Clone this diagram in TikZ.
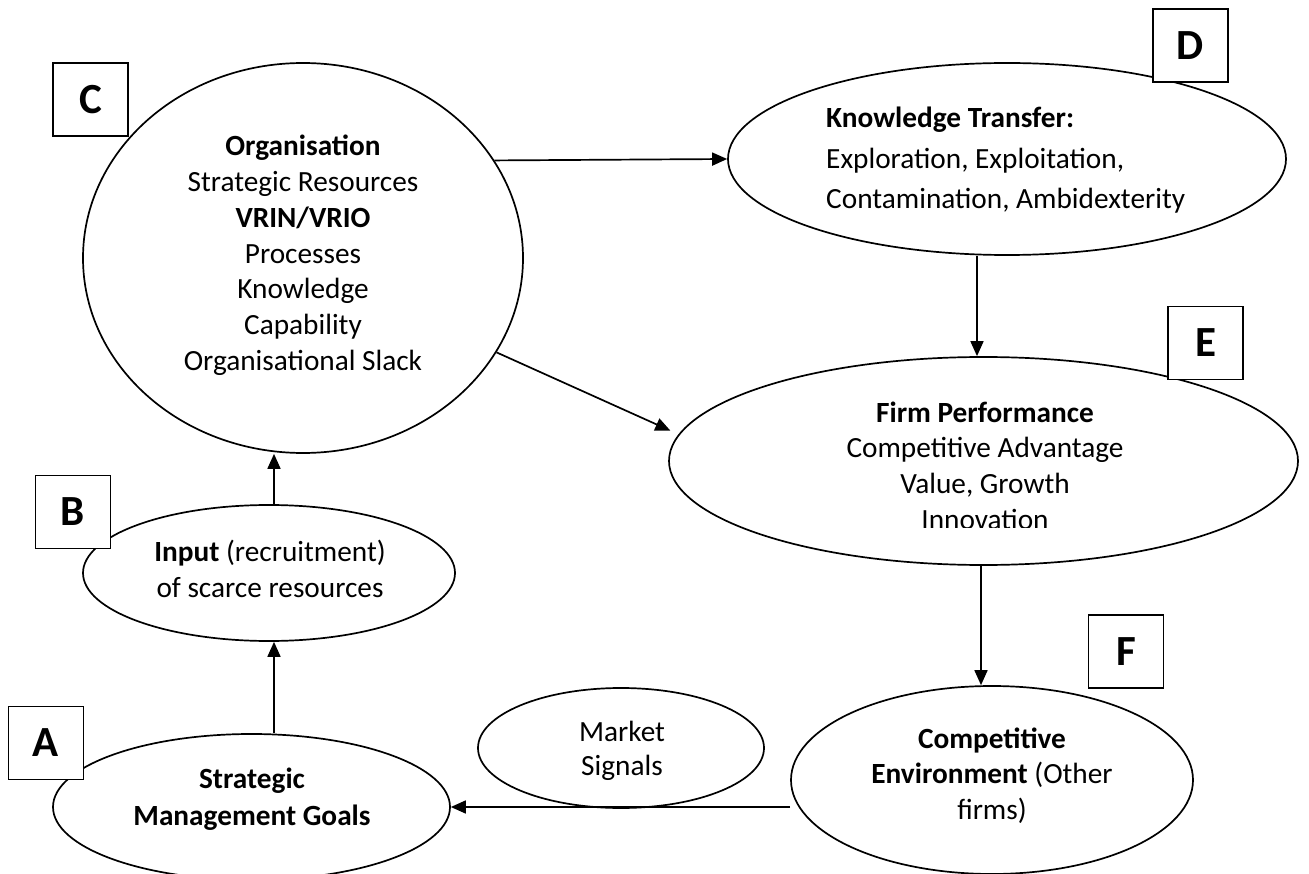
\documentclass[tikz,border=0pt]{standalone}
\usepackage{fontspec}
\setmainfont{Carlito}
\usetikzlibrary{shapes.geometric,arrows.meta}
\newcommand{\mlc}[2]{{\fontsize{29.3}{#1}\selectfont\begin{tabular}[t]{@{}c@{}}#2\end{tabular}}}
\newcommand{\mll}[2]{{\fontsize{29.3}{#1}\selectfont\begin{tabular}[t]{@{}l@{}}#2\end{tabular}}}
\begin{document}
\begin{tikzpicture}[x=1pt,y=-1pt,
  ell/.style={draw, ellipse, line width=1.7pt, inner sep=0pt},
  lbox/.style={draw, line width=1.7pt, fill=white, inner sep=0pt,
    minimum width=75pt, minimum height=73pt,
    font=\fontsize{43}{43}\selectfont\bfseries},
  txt/.style={inner sep=0pt, anchor=base, font=\fontsize{29.3}{36}\selectfont},
  arr/.style={line width=1.7pt, -{Triangle[length=15pt,width=13pt]}}]
\useasboundingbox (0,0) rectangle (1309,874);
\fill[white] (0,0) rectangle (1309,874);

% cut-off parentheses at the top edge
\begin{scope}
\clip (0,0) rectangle (1309,874);
\node[txt, anchor=base west] (lpar) at (298,-4) {(};
\node[txt, anchor=base east] (rpar) at (664,-4) {)};
\end{scope}

% ellipses
\node[ell, minimum width=440pt, minimum height=390pt] (C) at (303,258) {};
\node[ell, minimum width=558pt, minimum height=192pt] (D) at (1007,159) {};
\node[ell, minimum width=629pt, minimum height=208pt] (E) at (983.5,461) {};
\node[ell, minimum width=402pt, minimum height=188pt] (F) at (992,780) {};
\node[ell, minimum width=286pt, minimum height=120pt] (M) at (621,748) {};
\node[ell, minimum width=397pt, minimum height=146pt] (A) at (251.5,807) {};
\node[ell, minimum width=372pt, minimum height=136pt] (B) at (269,573) {};

% texts
\node[txt] (Ct) at (303,156) {\mlc{35.7pt}{\textbf{Organisation}\\Strategic Resources\\\textbf{VRIN/VRIO}\\Processes\\Knowledge\\Capability\\Organisational Slack}};
\node[txt, anchor=base west] (Dt) at (826,128) {\mll{40.5pt}{\textbf{Knowledge Transfer:}\\Exploration, Exploitation,\\Contamination, Ambidexterity}};
\begin{scope}
\clip (600,300) rectangle (1300,527);
\node[txt] (Et) at (985,422) {\mlc{35.7pt}{\textbf{Firm Performance}\\Competitive Advantage\\Value, Growth\\Innovation}};
\end{scope}
\node[txt] (Ft) at (992,748) {\mlc{35.5pt}{\textbf{Competitive}\\\textbf{Environment} (Other\\firms)}};
\node[txt] (Mt) at (622,741) {\mlc{34pt}{Market\\Signals}};
\node[txt] (At) at (252,788) {\mlc{37pt}{\textbf{Strategic}\\\textbf{Management Goals}}};
\node[txt] (Bt) at (270,561) {\mlc{36pt}{\textbf{Input} (recruitment)\\of scarce resources}};

% helper coordinates
\coordinate (ax) at (274,0);
\coordinate (efx) at (981,0);
\coordinate (dex) at (977,0);

% connectors
\draw[arr] (C.27.6) -- (D.west);
\draw[arr, shorten >=9pt] (C.-26.1) -- (E.175.3);
\draw[arr] (D.south -| dex) -- (E.north -| dex);
\draw[arr] (E.south -| efx) -- (F.north -| efx);
\draw[arr] (F.west |- A.east) -- (A.east);
\draw[arr] (A.north -| ax) -- (B.south -| ax);
\draw[arr] (B.north -| ax) -- (C.south -| ax);

% letter boxes
\node[lbox] (Cb) at (90.5,99.5) {C};
\node[lbox] (Db) at (1190.5,45.5) {D};
\node[lbox] (Eb) at (1205.5,343) {E};
\node[lbox] (Fb) at (1126,651.5) {F};
\node[lbox] (Ab) at (46,743) {A};
\node[lbox] (Bb) at (73,512) {B};
\end{tikzpicture}
\end{document}
